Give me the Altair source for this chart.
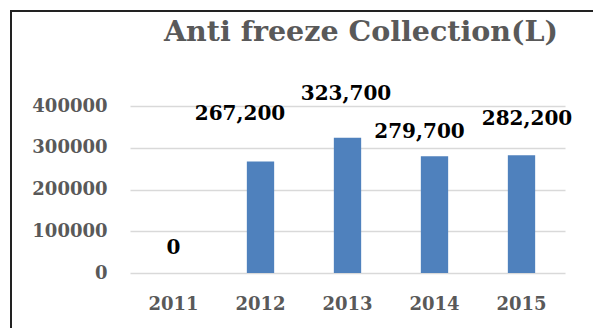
import altair as alt
import pandas as pd

years = ["2011", "2012", "2013", "2014", "2015"]
values = [0, 267200, 323700, 279700, 282200]
y_ticks = [0, 100000, 200000, 300000, 400000]
title_text = "Anti freeze Collection(L)"

# label placement offsets (px) relative to bar top / band centre
label_dx = [0, -20.5, -1.5, -15, 5.5]
label_dy = [-25, -47, -44, -24, -36]

df = pd.DataFrame({"year": years, "value": values})

FONT = "DejaVu Serif"

x_enc = alt.X("year:N", sort=years, title=None,
              scale=alt.Scale(paddingInner=0.686, paddingOuter=0.343),
              axis=alt.Axis(labelAngle=0, ticks=False, domain=False, grid=False,
                            labelFont=FONT, labelFontSize=18, labelFontWeight="bold",
                            labelColor="#595959", labelPadding=22))
y_scale = alt.Scale(domain=[0, 400000], nice=False)

bars = alt.Chart(df).mark_bar(color="#4F81BD").encode(
    x=x_enc,
    y=alt.Y("value:Q", scale=y_scale, title=None,
            axis=alt.Axis(values=y_ticks, format="d", ticks=False, domain=False,
                          gridColor="#D9D9D9", gridWidth=1.5,
                          labelFont=FONT, labelFontSize=18, labelFontWeight="bold",
                          labelColor="#595959", labelPadding=23)),
)

labels = []
for i in range(len(years)):
    labels.append(
        alt.Chart(df.iloc[[i]]).mark_text(
            font=FONT, fontSize=20, fontWeight="bold", color="black",
            baseline="middle", align="center", dx=label_dx[i], dy=label_dy[i],
        ).encode(
            x=alt.X("year:N", sort=years),
            y=alt.Y("value:Q", scale=y_scale),
            text=alt.Text("value:Q", format=","),
        )
    )

title = alt.Chart(pd.DataFrame({"t": [title_text]})).mark_text(
    font=FONT, fontSize=28.5, fontWeight="bold", color="#595959",
    align="center", baseline="alphabetic",
).encode(text="t:N", x=alt.value(231), y=alt.value(-65))

border_top = alt.Chart(pd.DataFrame({"a": [0]})).mark_rule(color="#222222", strokeWidth=2).encode(
    x=alt.value(-120), x2=alt.value(470), y=alt.value(-95))
border_left = alt.Chart(pd.DataFrame({"a": [0]})).mark_rule(color="#222222", strokeWidth=2).encode(
    x=alt.value(-119), y=alt.value(-96), y2=alt.value(240))

chart = alt.layer(bars, *labels, title, border_top, border_left).properties(
    width=435, height=167,
    autosize=alt.AutoSizeParams(type="none"),
    padding={"left": 130, "top": 106, "right": 28, "bottom": 55},
    background="white",
).configure_view(stroke=None)

chart.save("out.html", embed_options={"renderer": "svg", "actions": False})
